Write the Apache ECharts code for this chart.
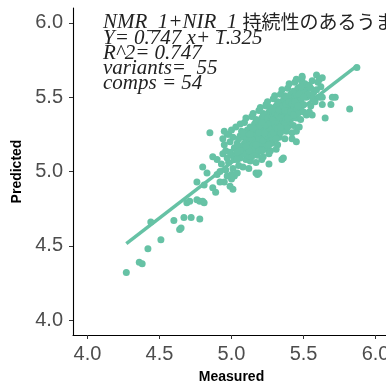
<!DOCTYPE html>
<html>
<head>
<meta charset="UTF-8">
<title>Measured vs Predicted</title>
<style>
  body { margin: 0; background: #fff; }
  #chart { width: 386px; height: 383px; }
</style>
</head>
<body>
<div id="chart"></div>
<script src="https://cdn.jsdelivr.net/npm/echarts@6.0.0/dist/echarts.min.js"></script>
<script>
// tick values shared by both axes
const ticks = [4.0, 4.5, 5.0, 5.5, 6.0];

// annotation text
const titleLatin = 'NMR_1+NIR_1 ';
const titleJa = '持続性のあるうま味';
const statLines = ['Y= 0.747 x+ 1.325', 'R^2= 0.747', 'variants=  55', 'comps = 54'];

// fitted line end points (measured, predicted)
const fitLine = [[4.27, 4.515], [5.87, 5.71]];

// lower tail, below the main cloud
const lowTail = [
  [4.27, 4.32], [4.36, 4.39], [4.38, 4.38], [4.42, 4.48], [4.44, 4.66], [4.51, 4.54],
  [4.60, 4.67], [4.64, 4.61], [4.65, 4.62], [4.67, 4.69], [4.72, 4.69], [4.78, 4.68],
  [4.69, 4.79], [4.71, 4.80], [4.76, 4.81], [4.78, 4.80], [4.80, 4.80], [4.81, 4.79]
];

// scattered points around the cloud edges
const edgePoints = [
  [4.85, 5.26], [4.80, 5.03], [4.76, 4.93], [4.81, 4.91], [4.87, 4.89], [4.89, 4.86],
  [4.83, 4.99], [4.87, 5.10], [4.90, 5.08], [4.90, 4.98], [4.92, 5.00], [4.95, 4.93],
  [4.99, 4.90], [5.01, 4.88], [5.02, 4.97], [5.00, 4.95], [4.92, 4.93], [5.17, 4.99],
  [5.18, 4.98], [5.26, 5.05], [5.35, 5.08], [5.36, 5.09], [5.19, 4.99], [5.21, 5.08],
  [5.42, 5.22], [5.45, 5.20], [5.45, 5.27],
  [5.82, 5.42], [5.72, 5.50], [5.69, 5.45], [5.70, 5.50], [5.59, 5.65], [5.61, 5.62],
  [5.63, 5.63], [5.49, 5.64], [5.49, 5.60], [5.52, 5.55], [5.56, 5.50], [5.63, 5.50],
  [5.37, 5.50], [5.24, 5.44], [5.65, 5.36], [5.56, 5.38], [5.87, 5.70]
];

// main dense cloud
const cloud = [
  [4.93, 5.05], [4.94, 5.12], [4.95, 5.18], [4.96, 5.01], [4.97, 5.09], [4.94, 5.22], [4.96, 5.14], [4.97, 4.97],
  [4.95, 5.27], [4.97, 5.25],
  [4.98, 5.06], [4.99, 5.20], [5.00, 5.11], [5.01, 5.02], [5.02, 5.16], [4.98, 5.25], [5.00, 4.98], [5.01, 5.23],
  [5.02, 5.08], [4.99, 5.13], [5.00, 5.28],
  [5.03, 5.12], [5.04, 5.19], [5.05, 5.04], [5.06, 5.24], [5.07, 5.14], [5.03, 5.30], [5.04, 4.99], [5.05, 5.17],
  [5.06, 5.09], [5.07, 5.27], [5.05, 5.22], [5.04, 5.08], [5.06, 5.32],
  [5.08, 5.16], [5.09, 5.23], [5.10, 5.08], [5.11, 5.28], [5.12, 5.18], [5.08, 5.03], [5.09, 5.33], [5.10, 5.13],
  [5.11, 5.21], [5.12, 5.02], [5.08, 5.26], [5.10, 5.36], [5.11, 5.11], [5.12, 5.25], [5.09, 5.19],
  [5.13, 5.20], [5.14, 5.27], [5.15, 5.12], [5.16, 5.32], [5.17, 5.22], [5.13, 5.07], [5.14, 5.37], [5.15, 5.17],
  [5.16, 5.25], [5.17, 5.06], [5.13, 5.30], [5.15, 5.39], [5.16, 5.15], [5.17, 5.29], [5.14, 5.10], [5.15, 5.24],
  [5.17, 5.35],
  [5.18, 5.24], [5.19, 5.31], [5.20, 5.16], [5.21, 5.36], [5.22, 5.26], [5.18, 5.11], [5.19, 5.41], [5.20, 5.21],
  [5.21, 5.29], [5.22, 5.10], [5.18, 5.34], [5.20, 5.43], [5.21, 5.19], [5.22, 5.33], [5.19, 5.14], [5.20, 5.27],
  [5.22, 5.39], [5.18, 5.19], [5.21, 5.24],
  [5.23, 5.28], [5.24, 5.35], [5.25, 5.20], [5.26, 5.40], [5.27, 5.30], [5.23, 5.15], [5.24, 5.45], [5.25, 5.25],
  [5.26, 5.33], [5.27, 5.14], [5.23, 5.38], [5.25, 5.47], [5.26, 5.23], [5.27, 5.37], [5.24, 5.18], [5.25, 5.31],
  [5.27, 5.43], [5.23, 5.22], [5.26, 5.12], [5.24, 5.27],
  [5.28, 5.32], [5.29, 5.39], [5.30, 5.24], [5.31, 5.44], [5.32, 5.34], [5.28, 5.19], [5.29, 5.49], [5.30, 5.29],
  [5.31, 5.37], [5.32, 5.18], [5.28, 5.42], [5.30, 5.51], [5.31, 5.27], [5.32, 5.41], [5.29, 5.22], [5.30, 5.35],
  [5.32, 5.47], [5.28, 5.26], [5.31, 5.15], [5.29, 5.31],
  [5.33, 5.36], [5.34, 5.43], [5.35, 5.28], [5.36, 5.48], [5.37, 5.38], [5.33, 5.23], [5.34, 5.52], [5.35, 5.33],
  [5.36, 5.41], [5.37, 5.22], [5.33, 5.46], [5.35, 5.55], [5.36, 5.31], [5.37, 5.45], [5.34, 5.26], [5.35, 5.39],
  [5.37, 5.51], [5.33, 5.30],
  [5.38, 5.40], [5.39, 5.47], [5.40, 5.32], [5.41, 5.52], [5.42, 5.42], [5.38, 5.27], [5.39, 5.56], [5.40, 5.37],
  [5.41, 5.45], [5.42, 5.26], [5.38, 5.50], [5.40, 5.59], [5.41, 5.35], [5.42, 5.49], [5.39, 5.30], [5.40, 5.43],
  [5.43, 5.44], [5.44, 5.51], [5.45, 5.36], [5.46, 5.56], [5.47, 5.46], [5.43, 5.31], [5.44, 5.60], [5.45, 5.41],
  [5.46, 5.49], [5.47, 5.30], [5.43, 5.54], [5.45, 5.62], [5.46, 5.39],
  [5.48, 5.48], [5.49, 5.55], [5.50, 5.40], [5.51, 5.59], [5.52, 5.50], [5.48, 5.35], [5.49, 5.63], [5.50, 5.45],
  [5.51, 5.53], [5.52, 5.38],
  [5.53, 5.52], [5.54, 5.58], [5.55, 5.44], [5.56, 5.61], [5.57, 5.53], [5.54, 5.40], [5.55, 5.56], [5.58, 5.47],
  [5.59, 5.55], [5.60, 5.60], [5.61, 5.50], [5.62, 5.57], [5.63, 5.45]
];

// extra points filling the core of the cloud
const core = [
  [5.12, 5.14], [5.14, 5.22], [5.16, 5.19], [5.18, 5.28], [5.19, 5.22], [5.20, 5.31], [5.21, 5.14], [5.22, 5.21],
  [5.23, 5.33], [5.24, 5.24], [5.24, 5.31], [5.25, 5.36], [5.26, 5.27], [5.26, 5.18], [5.27, 5.25], [5.27, 5.33],
  [5.28, 5.36], [5.28, 5.29], [5.29, 5.26], [5.29, 5.35], [5.30, 5.40], [5.30, 5.32], [5.31, 5.30], [5.31, 5.22],
  [5.32, 5.38], [5.32, 5.29], [5.33, 5.33], [5.33, 5.41], [5.34, 5.36], [5.34, 5.30], [5.35, 5.44], [5.35, 5.36],
  [5.36, 5.34], [5.36, 5.44], [5.37, 5.41], [5.37, 5.33], [5.38, 5.45], [5.38, 5.35], [5.39, 5.41], [5.39, 5.36],
  [5.40, 5.47], [5.41, 5.40], [5.42, 5.46], [5.43, 5.38], [5.44, 5.47], [5.45, 5.52], [5.46, 5.44], [5.47, 5.52],
  [5.48, 5.57], [5.50, 5.50], [5.10, 5.17], [5.08, 5.12], [5.06, 5.14], [5.04, 5.13], [5.13, 5.25], [5.15, 5.29],
  [5.17, 5.18], [5.19, 5.26], [5.21, 5.33], [5.23, 5.26]
];

const green = '#66c2a5';
const chart = echarts.init(document.getElementById('chart'));

const axisBase = {
  type: 'value',
  min: 3.9,
  max: 6.1,
  nameLocation: 'middle',
  nameTextStyle: { fontWeight: 'bold', fontSize: 14, color: '#000', fontFamily: 'Liberation Sans' },
  axisLine: { show: true, lineStyle: { color: '#000', width: 1.1 } },
  axisTick: { show: true, length: 4, lineStyle: { color: '#333' }, customValues: ticks },
  axisLabel: {
    customValues: ticks,
    formatter: v => v.toFixed(1),
    fontSize: 20,
    color: '#4d4d4d',
    fontFamily: 'Liberation Sans'
  },
  splitLine: { show: false }
};

const statText = statLines.map((t, i) => ({
  type: 'text',
  x: 103,
  y: 38 + i * 15,
  z: 10,
  style: {
    text: t,
    font: 'italic 21px "Liberation Serif"',
    fill: '#222',
    verticalAlign: 'middle'
  }
}));

chart.setOption({
  animation: false,
  grid: { left: 73, top: 8, width: 317, height: 327, outerBoundsMode: 'none', containLabel: false },
  xAxis: Object.assign({}, axisBase, {
    name: 'Measured',
    nameGap: 35,
    axisLabel: Object.assign({}, axisBase.axisLabel, { margin: 9 })
  }),
  yAxis: Object.assign({}, axisBase, {
    name: 'Predicted',
    nameGap: 44,
    axisLabel: Object.assign({}, axisBase.axisLabel, { margin: 10 })
  }),
  graphic: [{
    type: 'text',
    x: 103,
    y: 22,
    z: 10,
    style: {
      text: '{a|' + titleLatin + '}{b|' + titleJa + '}',
      verticalAlign: 'middle',
      rich: {
        a: { font: 'italic 21px "Liberation Serif"', fill: '#222' },
        b: { font: '19px "Noto Sans CJK JP"', fill: '#222' }
      }
    }
  }].concat(statText),
  series: [
    {
      type: 'line',
      data: fitLine,
      symbol: 'none',
      lineStyle: { color: green, width: 3.5 },
      z: 1
    },
    {
      type: 'scatter',
      data: lowTail.concat(edgePoints, cloud, core),
      symbolSize: 7,
      itemStyle: { color: green, opacity: 1 },
      z: 2
    }
  ]
});
</script>
</body>
</html>
